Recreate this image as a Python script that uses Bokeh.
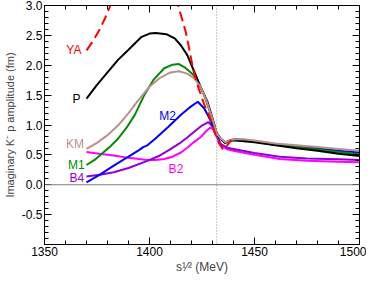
from bokeh.plotting import figure
from bokeh.models import (FixedTicker, LinearAxis, Range1d, Span,
                          PrintfTickFormatter, ColumnDataSource, CustomLabelingPolicy)
from bokeh.core.properties import value
from bokeh.embed import file_html
from bokeh.resources import INLINE

# ---------------- data ----------------
x_ticks = [1350, 1400, 1450, 1500]
x_minor = [1360, 1370, 1380, 1390, 1410, 1420, 1430, 1440, 1460, 1470, 1480, 1490]
y_ticks = [-0.5, 0.0, 0.5, 1.0, 1.5, 2.0, 2.5, 3.0]
y_minor = [round(-1.0 + 0.1 * i, 1) for i in range(41)]
threshold = 1432

# YA (red dashed)
ya_x = [1370, 1373, 1376, 1379, 1381, 1383, 1388, 1395, 1402, 1408, 1412, 1413.5,
        1417.4, 1421, 1423.5, 1426, 1428.5, 1431, 1433, 1435, 1437, 1439]
ya_y = [2.25, 2.40, 2.58, 2.80, 2.97, 3.20, 3.80, 4.50, 4.80, 4.00, 3.30, 3.02,
        2.54, 1.90, 1.60, 1.35, 1.15, 0.88, 0.70, 0.59, 0.66, 0.75]

post_x = [1434, 1436, 1438.7, 1441, 1445, 1450, 1460, 1470, 1480, 1490, 1500]

# P (black)
p_x = [1370, 1375, 1380, 1385, 1390, 1396, 1400, 1403, 1408, 1412, 1415, 1418, 1421,
       1424.7, 1427.5, 1430.2, 1432] + post_x
p_y = [1.44, 1.67, 1.88, 2.09, 2.26, 2.47, 2.53, 2.54, 2.52, 2.45, 2.33, 2.17, 1.92,
       1.61, 1.40, 1.09, 0.86] + [0.76, 0.70, 0.74, 0.74, 0.73, 0.71, 0.66, 0.61, 0.57, 0.52, 0.48]

# M1 (green)
m1_x = [1370, 1374, 1377, 1381, 1385, 1389, 1393, 1397.5, 1402, 1407, 1411, 1414, 1417,
        1420.6, 1423, 1426, 1429, 1432] + post_x
m1_y = [0.33, 0.42, 0.51, 0.63, 0.77, 0.95, 1.17, 1.50, 1.76, 1.95, 2.01, 2.02, 1.96,
        1.85, 1.73, 1.50, 1.20, 0.86] + [0.76, 0.70, 0.74, 0.75, 0.74, 0.72, 0.67, 0.63, 0.59, 0.55, 0.51]

# KM (rosy brown)
km_x = [1370, 1375, 1380, 1385, 1390, 1395, 1400, 1405, 1410, 1414, 1418, 1421, 1424,
        1427, 1430, 1432] + post_x
km_y = [0.60, 0.70, 0.83, 0.99, 1.20, 1.43, 1.64, 1.79, 1.88, 1.90, 1.86, 1.79, 1.66,
        1.42, 1.10, 0.86] + [0.77, 0.71, 0.75, 0.76, 0.76, 0.74, 0.69, 0.66, 0.63, 0.60, 0.57]

# M2 (blue)
m2_x = [1370, 1376, 1383, 1390, 1395, 1397, 1399, 1403, 1409, 1415, 1419, 1423, 1426,
        1428, 1430, 1432] + post_x
m2_y = [0.04, 0.16, 0.32, 0.47, 0.58, 0.63, 0.66, 0.78, 0.97, 1.17, 1.29, 1.39, 1.28,
        1.15, 1.00, 0.86] + [0.77, 0.71, 0.75, 0.76, 0.75, 0.73, 0.68, 0.64, 0.61, 0.57, 0.54]

post_low_x = [1434, 1437, 1440, 1450, 1462, 1475, 1490, 1500]

# B4 (purple)
b4_x = [1370, 1377, 1383, 1390, 1399, 1405, 1410, 1415, 1418, 1421, 1424.5, 1428,
        1430, 1432] + post_low_x
b4_y = [0.14, 0.17, 0.21, 0.28, 0.40, 0.49, 0.595, 0.71, 0.79, 0.88, 0.98, 1.05,
        0.98, 0.82] + [0.68, 0.62, 0.60, 0.53, 0.47, 0.44, 0.425, 0.415]

# B2 (magenta)
b2_x = [1370, 1376, 1383, 1390, 1395, 1399, 1403, 1407, 1411, 1415, 1418, 1421, 1424.5,
        1427, 1429, 1430.5, 1432] + post_low_x
b2_y = [0.55, 0.52, 0.49, 0.45, 0.43, 0.415, 0.415, 0.43, 0.47, 0.54, 0.62, 0.71, 0.80,
        0.90, 0.96, 0.92, 0.80] + [0.66, 0.595, 0.57, 0.50, 0.43, 0.40, 0.385, 0.375]

label_text = ["YA", "P", "KM", "M1", "B4", "M2", "B2"]
label_x = [1364, 1365.2, 1364.5, 1365.2, 1365.4, 1408.6, 1412.6]
label_y = [2.25, 1.44, 0.69, 0.33, 0.115, 1.156, 0.26]
label_color = ["#ff0000", "#000000", "#bc8f8f", "#008c00", "#9400d3", "#0000ff", "#ff00ff"]

# ---------------- figure ----------------
FONT = "Liberation Sans"

p = figure(width=366, height=276, output_backend="svg", toolbar_location=None,
           x_range=Range1d(1350, 1500), y_range=Range1d(-1.0, 3.0),
           min_border_left=43, min_border_right=7, min_border_top=5, min_border_bottom=27)
p.xgrid.visible = False
p.ygrid.visible = False
p.outline_line_color = "#000000"
p.background_fill_color = "white"
p.border_fill_color = "white"

xt = FixedTicker(ticks=x_ticks, minor_ticks=x_minor)
yt = FixedTicker(ticks=y_ticks, minor_ticks=y_minor)

def style_axis(ax, show_labels=True):
    ax.major_tick_in = 7
    ax.major_tick_out = 0
    ax.minor_tick_in = 4
    ax.minor_tick_out = 0
    ax.axis_line_color = "#000000"
    ax.major_tick_line_color = "#000000"
    ax.minor_tick_line_color = "#000000"
    ax.major_label_text_font = FONT
    ax.major_label_text_color = "#000000"
    if show_labels:
        ax.major_label_text_font_size = "12px"
        ax.major_label_standoff = 2
    else:
        ax.major_label_policy = CustomLabelingPolicy(code="return new Set()")
        ax.major_label_text_font_size = "1px"
        ax.major_label_standoff = 0

p.xaxis.ticker = xt
p.yaxis.ticker = yt
p.yaxis.formatter = PrintfTickFormatter(format="%.1f")
style_axis(p.xaxis[0])
style_axis(p.yaxis[0])
p.yaxis.axis_label = "Imaginary K\u207b p amplitude (fm)"
p.yaxis.axis_label_text_font = FONT
p.yaxis.axis_label_text_font_size = "11px"
p.yaxis.axis_label_text_font_style = "normal"
p.yaxis.axis_label_standoff = 3
p.xaxis.axis_label = "s\u00b9\u2044\u00b2 (MeV)"
p.xaxis.axis_label_text_font = FONT
p.xaxis.axis_label_text_font_size = "12px"
p.xaxis.axis_label_text_font_style = "normal"
p.xaxis.axis_label_standoff = 1

top = LinearAxis(ticker=xt)
style_axis(top, False)
p.add_layout(top, "above")
right = LinearAxis(ticker=yt)
style_axis(right, False)
p.add_layout(right, "right")

p.add_layout(Span(location=0, dimension="width", line_color="#808080", line_width=1))
p.add_layout(Span(location=threshold, dimension="height", line_color="#888888",
                  line_width=1, line_dash="1 2"))

p.line(b2_x, b2_y, line_color="#ff00ff", line_width=2)
p.line(b4_x, b4_y, line_color="#9400d3", line_width=2)
p.line(m2_x, m2_y, line_color="#0000ff", line_width=2)
p.line(m1_x, m1_y, line_color="#008c00", line_width=2)
p.line(p_x, p_y, line_color="#000000", line_width=2)
p.line(km_x, km_y, line_color="#bc8f8f", line_width=2)
p.line(ya_x, ya_y, line_color="#ff0000", line_width=2, line_dash="10 5")

src = ColumnDataSource(dict(x=label_x, y=label_y, t=label_text, c=label_color))
p.text(x="x", y="y", text="t", text_color="c", source=src, text_font=value(FONT),
       text_font_size="12px", text_align="center", text_baseline="middle")

open("out.html", "w").write(file_html(p, INLINE))
